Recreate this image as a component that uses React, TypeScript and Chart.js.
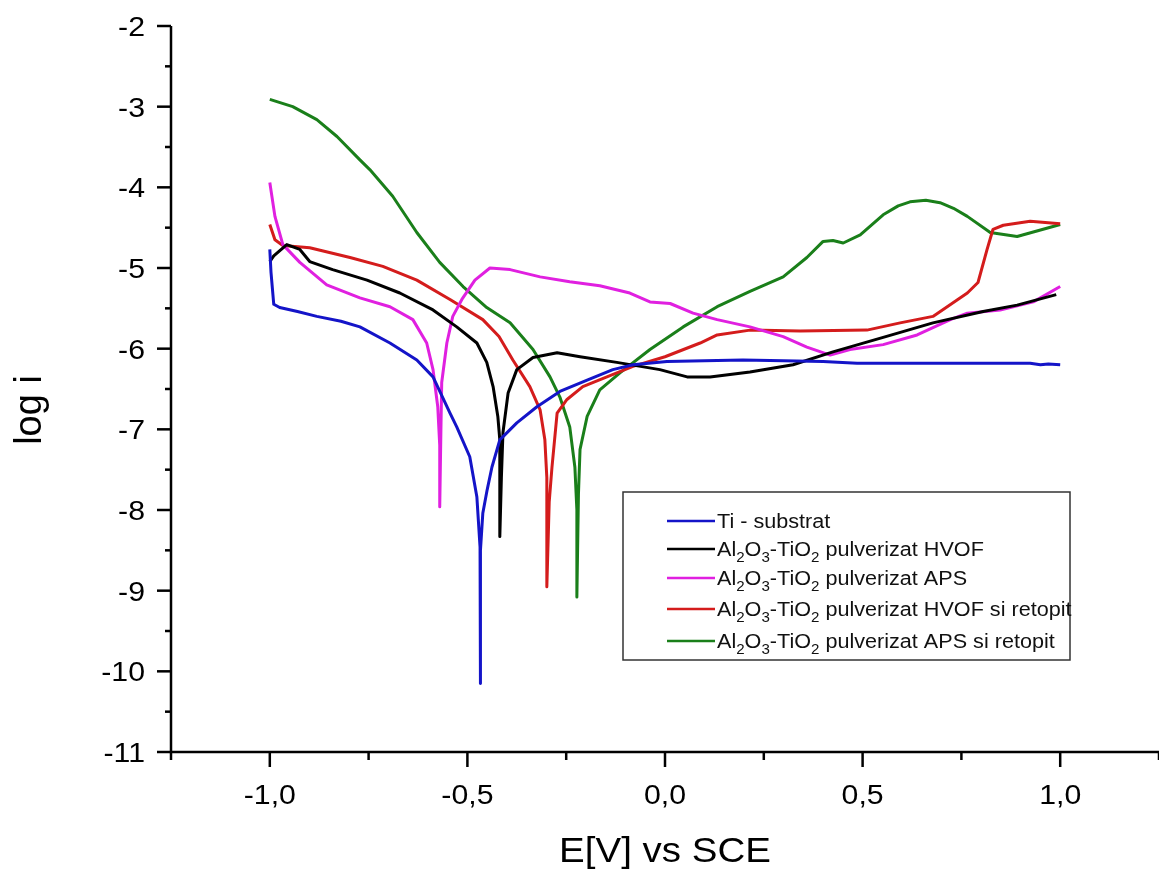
import React, { useEffect, useRef } from 'react';
import { Chart, registerables } from 'chart.js';

Chart.register(...registerables);

const FONT = '"Liberation Sans", Arial, sans-serif';

const seriesLabels = [
  'Ti - substrat',
  'Al₂O₃-TiO₂ pulverizat HVOF',
  'Al₂O₃-TiO₂ pulverizat APS',
  'Al₂O₃-TiO₂ pulverizat HVOF si retopit',
  'Al₂O₃-TiO₂ pulverizat APS si retopit',
];
const seriesColors = ['#1414c8', '#000000', '#e020e0', '#d41c1c', '#1a7f1a'];

// Ti - substrat
const tiE = [-1.0, -0.997, -0.99, -0.975, -0.93, -0.881, -0.82, -0.772, -0.696, -0.628, -0.587, -0.544, -0.527, -0.494, -0.476, -0.468, -0.468, -0.466, -0.461, -0.45, -0.438, -0.418, -0.375, -0.324, -0.266, -0.197, -0.132, -0.081, 0.005, 0.1, 0.197, 0.3, 0.4, 0.486, 0.6, 0.75, 0.924, 0.95, 0.97, 1.0];
const tiLogI = [-4.77, -5.05, -5.45, -5.49, -5.54, -5.6, -5.66, -5.73, -5.93, -6.14, -6.35, -6.8, -6.97, -7.34, -7.84, -8.46, -10.15, -8.5, -8.04, -7.75, -7.47, -7.13, -6.92, -6.72, -6.53, -6.39, -6.26, -6.2, -6.16, -6.15, -6.14, -6.15, -6.16, -6.18, -6.18, -6.18, -6.18, -6.2, -6.19, -6.2];

// Al2O3-TiO2 HVOF
const hvofE = [-1.0, -0.99, -0.957, -0.924, -0.899, -0.841, -0.754, -0.671, -0.587, -0.527, -0.476, -0.451, -0.435, -0.423, -0.418, -0.418, -0.414, -0.41, -0.397, -0.375, -0.334, -0.273, -0.215, -0.122, -0.013, 0.056, 0.114, 0.215, 0.324, 0.425, 0.552, 0.678, 0.805, 0.891, 0.99];
const hvofLogI = [-4.92, -4.85, -4.71, -4.77, -4.92, -5.02, -5.15, -5.31, -5.52, -5.73, -5.93, -6.17, -6.47, -6.84, -7.13, -8.33, -7.6, -7.04, -6.55, -6.26, -6.11, -6.05, -6.1, -6.17, -6.26, -6.35, -6.35, -6.29, -6.2, -6.04, -5.86, -5.68, -5.54, -5.46, -5.33];

// Al2O3-TiO2 APS
const apsE = [-1.0, -0.987, -0.967, -0.924, -0.856, -0.772, -0.696, -0.638, -0.603, -0.587, -0.575, -0.57, -0.57, -0.567, -0.565, -0.552, -0.537, -0.514, -0.481, -0.443, -0.392, -0.316, -0.241, -0.165, -0.089, -0.038, 0.013, 0.071, 0.132, 0.215, 0.299, 0.359, 0.418, 0.468, 0.552, 0.638, 0.722, 0.765, 0.848, 0.932, 1.0];
const apsLogI = [-3.94, -4.36, -4.71, -4.93, -5.21, -5.37, -5.48, -5.64, -5.93, -6.26, -6.72, -7.2, -7.96, -7.0, -6.42, -5.93, -5.6, -5.39, -5.15, -5.0, -5.02, -5.11, -5.17, -5.22, -5.31, -5.42, -5.44, -5.56, -5.64, -5.73, -5.85, -5.98, -6.08, -6.01, -5.95, -5.83, -5.64, -5.56, -5.52, -5.42, -5.23];

// Al2O3-TiO2 HVOF si retopit
const hvofRE = [-1.0, -0.987, -0.967, -0.899, -0.797, -0.714, -0.628, -0.544, -0.461, -0.42, -0.385, -0.342, -0.316, -0.304, -0.299, -0.299, -0.293, -0.286, -0.273, -0.248, -0.208, -0.147, -0.081, 0.0, 0.089, 0.132, 0.215, 0.342, 0.511, 0.595, 0.678, 0.765, 0.792, 0.815, 0.83, 0.856, 0.924, 1.0];
const hvofRLogI = [-4.46, -4.65, -4.72, -4.75, -4.87, -4.98, -5.15, -5.39, -5.64, -5.85, -6.14, -6.47, -6.76, -7.13, -7.6, -8.95, -7.9, -7.47, -6.8, -6.63, -6.47, -6.35, -6.22, -6.1, -5.93, -5.83, -5.77, -5.78, -5.77, -5.68, -5.6, -5.31, -5.18, -4.77, -4.52, -4.47, -4.42, -4.45];

// Al2O3-TiO2 APS si retopit
const apsRE = [-1.0, -0.942, -0.881, -0.83, -0.772, -0.747, -0.689, -0.628, -0.57, -0.511, -0.451, -0.392, -0.334, -0.291, -0.266, -0.241, -0.228, -0.223, -0.223, -0.219, -0.215, -0.197, -0.165, -0.114, -0.038, 0.046, 0.132, 0.215, 0.299, 0.359, 0.4, 0.425, 0.451, 0.494, 0.552, 0.59, 0.62, 0.66, 0.696, 0.73, 0.765, 0.823, 0.891, 1.0];
const apsRLogI = [-2.91, -3.0, -3.16, -3.37, -3.66, -3.78, -4.11, -4.56, -4.93, -5.23, -5.49, -5.68, -6.01, -6.35, -6.6, -6.97, -7.47, -8.0, -9.08, -7.8, -7.25, -6.84, -6.51, -6.3, -6.01, -5.73, -5.48, -5.29, -5.11, -4.87, -4.67, -4.66, -4.69, -4.59, -4.34, -4.23, -4.18, -4.16, -4.19, -4.26, -4.36, -4.56, -4.61, -4.46];

const xTickValues = [-1, -0.5, 0, 0.5, 1];
const xTickLabels = ['-1,0', '-0,5', '0,0', '0,5', '1,0'];
const yTickValues = [-11, -10, -9, -8, -7, -6, -5, -4, -3, -2];
const yTickLabels = ['-11', '-10', '-9', '-8', '-7', '-6', '-5', '-4', '-3', '-2'];
const xTitle = 'E[V] vs SCE';
const yTitle = 'log i';

const seriesE = [tiE, hvofE, apsE, hvofRE, apsRE];
const seriesLogI = [tiLogI, hvofLogI, apsLogI, hvofRLogI, apsRLogI];

const SX = 1.08;

function drawText(ctx: CanvasRenderingContext2D, text: string, x: number, y: number, size: number, align: 'left' | 'right' | 'center', sx = SX) {
  ctx.save();
  ctx.font = `${size}px ${FONT}`;
  const w = ctx.measureText(text).width * sx;
  let x0 = x;
  if (align === 'right') x0 = x - w;
  else if (align === 'center') x0 = x - w / 2;
  ctx.translate(x0, y);
  ctx.scale(sx, 1);
  ctx.textAlign = 'left';
  ctx.textBaseline = 'alphabetic';
  ctx.fillText(text, 0, 0);
  ctx.restore();
}

const SUBS: Record<string, string> = { '₂': '2', '₃': '3' };

function drawRich(ctx: CanvasRenderingContext2D, text: string, x: number, y: number, size: number) {
  ctx.save();
  ctx.translate(x, y);
  ctx.scale(SX, 1);
  ctx.textBaseline = 'alphabetic';
  ctx.textAlign = 'left';
  let cx = 0;
  let run = '';
  const flush = () => {
    if (!run) return;
    ctx.font = `${size}px ${FONT}`;
    ctx.fillText(run, cx, 0);
    cx += ctx.measureText(run).width;
    run = '';
  };
  for (const ch of text) {
    if (SUBS[ch]) {
      flush();
      const s = Math.round(size * 0.68);
      ctx.font = `${s}px ${FONT}`;
      ctx.fillText(SUBS[ch], cx, size * 0.3);
      cx += ctx.measureText(SUBS[ch]).width;
    } else {
      run += ch;
    }
  }
  flush();
  ctx.restore();
}

const decorPlugin = {
  id: 'decor',
  afterDraw(chart: any) {
    const ctx: CanvasRenderingContext2D = chart.ctx;
    const { left, right, top, bottom } = chart.chartArea;
    const xs = chart.scales.x;
    const ys = chart.scales.y;
    ctx.save();
    ctx.strokeStyle = '#000';
    ctx.fillStyle = '#000';
    ctx.lineWidth = 2.5;
    ctx.lineCap = 'butt';
    ctx.beginPath();
    ctx.moveTo(left, top);
    ctx.lineTo(left, bottom);
    ctx.lineTo(right, bottom);
    ctx.stroke();

    xs.ticks.forEach((t: any) => {
      const px = xs.getPixelForValue(t.value);
      const major = Math.abs(t.value * 2 - Math.round(t.value * 2)) < 1e-6;
      const len = major ? 15 : 8;
      ctx.beginPath();
      ctx.moveTo(px, bottom);
      ctx.lineTo(px, bottom + len);
      ctx.stroke();
    });
    ys.ticks.forEach((t: any) => {
      const py = ys.getPixelForValue(t.value);
      const major = Math.abs(t.value - Math.round(t.value)) < 1e-6;
      const len = major ? 14 : 6;
      ctx.beginPath();
      ctx.moveTo(left, py);
      ctx.lineTo(left - len, py);
      ctx.stroke();
    });

    xTickValues.forEach((v, i) => {
      drawText(ctx, xTickLabels[i], xs.getPixelForValue(v), bottom + 52, 28, 'center');
    });
    yTickValues.forEach((v, i) => {
      drawText(ctx, yTickLabels[i], left - 26, ys.getPixelForValue(v) + 10, 28, 'right');
    });

    drawText(ctx, xTitle, (left + xs.getPixelForValue(1.25)) / 2 , 862, 35, 'center', 1.1);
    ctx.save();
    ctx.translate(41, 410);
    ctx.rotate(-Math.PI / 2);
    drawText(ctx, yTitle, 0, 0, 38, 'center', 1.0);
    ctx.restore();

    // legend
    const bx = 623, by = 492, bw = 447, bh = 168;
    ctx.lineWidth = 1.5;
    ctx.strokeStyle = '#333';
    ctx.strokeRect(bx, by, bw, bh);
    const rows = [521, 549, 578, 609, 641];
    seriesLabels.forEach((lab, i) => {
      ctx.strokeStyle = seriesColors[i];
      ctx.lineWidth = 2.5;
      ctx.beginPath();
      ctx.moveTo(667, rows[i]);
      ctx.lineTo(715, rows[i]);
      ctx.stroke();
      ctx.fillStyle = '#111';
      drawRich(ctx, lab, 717, rows[i] + 7, 20);
    });
    ctx.restore();
  },
};

export default function App() {
  const ref = useRef<HTMLCanvasElement | null>(null);
  useEffect(() => {
    if (!ref.current) return;
    const datasets = seriesLabels.map((label, i) => ({
      label,
      data: seriesE[i].map((e, j) => ({ x: e, y: seriesLogI[i][j] })),
      borderColor: seriesColors[i],
      backgroundColor: seriesColors[i],
      borderWidth: 3,
      borderJoinStyle: 'round',
      pointRadius: 0,
      showLine: true,
      tension: 0,
      fill: false,
    }));
    const chart = new Chart(ref.current, {
      type: 'scatter',
      data: { datasets },
      plugins: [decorPlugin],
      options: {
        responsive: false,
        animation: false,
        devicePixelRatio: 1,
        layout: { padding: { top: 26, right: 0, left: 0, bottom: 0 } },
        plugins: { legend: { display: false }, tooltip: { enabled: false } },
        scales: {
          x: {
            type: 'linear',
            min: -1.25,
            max: 1.25,
            ticks: { stepSize: 0.25, display: false },
            grid: { display: false, drawTicks: false },
            border: { display: false },
            afterFit: (s: any) => { s.height = 119; },
          },
          y: {
            type: 'linear',
            min: -11,
            max: -2,
            ticks: { stepSize: 0.5, display: false },
            grid: { display: false, drawTicks: false },
            border: { display: false },
            afterFit: (s: any) => { s.width = 171; },
          },
        },
      } as any,
    });
    return () => chart.destroy();
  }, []);
  return (
    <div style={{ position: 'absolute', left: 0, top: 0, width: 1159, height: 871, background: '#fff' }}>
      <canvas ref={ref} width={1159} height={871} style={{ display: 'block' }} />
    </div>
  );
}
